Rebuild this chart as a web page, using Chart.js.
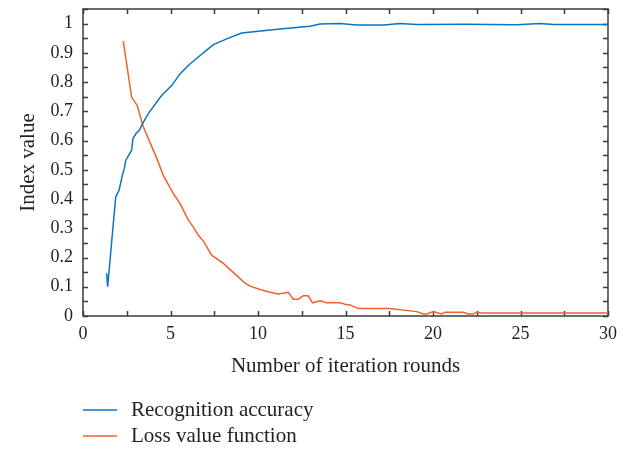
<!DOCTYPE html>
<html><head><meta charset="utf-8">
<script src="https://cdn.jsdelivr.net/npm/chart.js@4/dist/chart.umd.min.js"></script>
<style>html,body{margin:0;padding:0;background:#fff}#wrap{width:634px;height:450px;position:relative}canvas{display:block}</style>
</head><body><div id="wrap"><canvas id="c" width="634" height="450"></canvas></div>
<script>
// ---- data ----
const accX = [1.35, 1.41, 1.68, 1.87, 2.06, 2.25, 2.36, 2.44, 2.78, 2.85, 3.03, 3.22, 3.35, 3.73, 4.49, 5.07, 5.54, 6.11, 6.69, 7.1, 7.45, 8.21, 9.07, 11.26, 12.97, 13.54, 14.69, 15.64, 17.2, 18.1, 19.07, 21.9, 24.8, 26.1, 26.9, 30];
const accY = [0.146, 0.10, 0.282, 0.407, 0.43, 0.481, 0.504, 0.532, 0.567, 0.606, 0.624, 0.635, 0.652, 0.692, 0.754, 0.788, 0.828, 0.862, 0.891, 0.911, 0.928, 0.948, 0.968, 0.982, 0.991, 0.999, 1.0, 0.995, 0.995, 1.0, 0.997, 0.998, 0.996, 1.0, 0.997, 0.997];
const lossX = [2.3, 2.78, 3.1, 3.45, 4.21, 4.59, 5.16, 5.54, 6.02, 6.3, 6.59, 6.87, 7.35, 8.02, 8.87, 9.26, 9.54, 10.21, 10.69, 11.16, 11.73, 12.02, 12.3, 12.59, 12.87, 13.12, 13.54, 13.92, 14.69, 14.97, 15.26, 15.73, 17.54, 19.07, 19.45, 19.64, 20.02, 20.5, 20.69, 21.73, 22.02, 22.3, 22.5, 22.78, 30];
const lossY = [0.94, 0.748, 0.72, 0.646, 0.54, 0.481, 0.419, 0.385, 0.328, 0.305, 0.276, 0.257, 0.208, 0.18, 0.134, 0.112, 0.102, 0.089, 0.081, 0.075, 0.081, 0.057, 0.057, 0.069, 0.069, 0.045, 0.052, 0.045, 0.045, 0.04, 0.038, 0.026, 0.026, 0.015, 0.007, 0.007, 0.015, 0.007, 0.013, 0.013, 0.007, 0.007, 0.013, 0.01, 0.01];
const seriesNames = ['Recognition accuracy', 'Loss value function'];
const xTickValues = [0, 5, 10, 15, 20, 25, 30];
const yTickValues = [0, 0.1, 0.2, 0.3, 0.4, 0.5, 0.6, 0.7, 0.8, 0.9, 1];
const xTitle = 'Number of iteration rounds';
const yTitle = 'Index value';
const xRange = [0, 30], yRange = [0, 1.05];
const xMinorStep = 2.5, yMinorStep = 0.05;

// ---- styles ----
const FONT = "'Liberation Serif', 'Times New Roman', serif";
const TXT = '#231f20';
const COLORS = ['#0a74c2', '#f0622d'];
const AXIS = '#3c3c3c';

const toPts = (xs, ys) => xs.map((x, i) => ({x, y: ys[i]}));

const framePlugin = {
  id: 'frame',
  beforeDatasetsDraw(chart) {
    const {ctx, chartArea: a, scales: {x, y}} = chart;
    ctx.save();
    ctx.strokeStyle = AXIS; ctx.lineWidth = 1.5;
    ctx.strokeRect(a.left, a.top, a.right - a.left, a.bottom - a.top);
    ctx.beginPath();
    const nx = Math.round((xRange[1] - xRange[0]) / xMinorStep);
    for (let i = 0; i <= nx; i++) {
      const px = Math.round(x.getPixelForValue(xRange[0] + i * xMinorStep)) + 0.5;
      ctx.moveTo(px, a.bottom); ctx.lineTo(px, a.bottom - 5);
      ctx.moveTo(px, a.top); ctx.lineTo(px, a.top + 5);
    }
    const ny = Math.round((yRange[1] - yRange[0]) / yMinorStep);
    for (let i = 0; i <= ny; i++) {
      const py = Math.round(y.getPixelForValue(yRange[0] + i * yMinorStep)) + 0.5;
      ctx.moveTo(a.left, py); ctx.lineTo(a.left + 5, py);
      ctx.moveTo(a.right, py); ctx.lineTo(a.right - 5, py);
    }
    ctx.stroke();
    ctx.restore();
  },
  afterDraw(chart) {
    const {ctx, chartArea: a} = chart;
    ctx.save();
    ctx.font = '21px ' + FONT;
    ctx.fillStyle = TXT;
    ctx.textBaseline = 'alphabetic';
    const rows = [410, 436];
    chart.data.datasets.forEach((ds, i) => {
      const yy = rows[i];
      ctx.strokeStyle = ds.borderColor; ctx.lineWidth = 1.5;
      ctx.beginPath(); ctx.moveTo(a.left, yy); ctx.lineTo(a.left + 34, yy); ctx.stroke();
      ctx.fillText(ds.label, a.left + 48, yy + 6);
    });
    ctx.restore();
  }
};

new Chart(document.getElementById('c'), {
  type: 'line',
  data: {
    datasets: [
      {label: seriesNames[0], data: toPts(accX, accY), borderColor: COLORS[0], borderWidth: 1.5, pointRadius: 0, tension: 0, fill: false},
      {label: seriesNames[1], data: toPts(lossX, lossY), borderColor: COLORS[1], borderWidth: 1.5, pointRadius: 0, tension: 0, fill: false}
    ]
  },
  options: {
    responsive: false,
    animation: false,
    devicePixelRatio: 1,
    layout: {padding: {left: 0, right: 26, top: 9, bottom: 71}},
    plugins: {legend: {display: false}, tooltip: {enabled: false}},
    scales: {
      x: {
        type: 'linear', min: xRange[0], max: xRange[1],
        afterBuildTicks(s) { s.ticks = xTickValues.map(v => ({value: v})); },
        afterFit(s) { s.height = 63; s.paddingLeft = 0; s.paddingRight = 0; },
        grid: {display: false, drawTicks: false}, border: {display: false},
        ticks: {font: {family: FONT, size: 18}, color: TXT, padding: 7, maxRotation: 0, autoSkip: false, callback: v => String(v)},
        title: {display: true, text: xTitle, font: {family: FONT, size: 21}, color: TXT, padding: {top: 0, bottom: 0}}
      },
      y: {
        type: 'linear', min: yRange[0], max: yRange[1],
        afterBuildTicks(s) { s.ticks = yTickValues.map(v => ({value: v})); },
        afterFit(s) { s.width = 83; s.paddingTop = 0; s.paddingBottom = 0; },
        grid: {display: false, drawTicks: false}, border: {display: false},
        ticks: {font: {family: FONT, size: 18}, color: TXT, padding: 10, autoSkip: false, callback: v => String(Math.round(v * 100) / 100)},
        title: {display: true, text: yTitle, font: {family: FONT, size: 21}, color: TXT, padding: {top: 16, bottom: 0}}
      }
    }
  },
  plugins: [framePlugin]
});
</script>
</body></html>
